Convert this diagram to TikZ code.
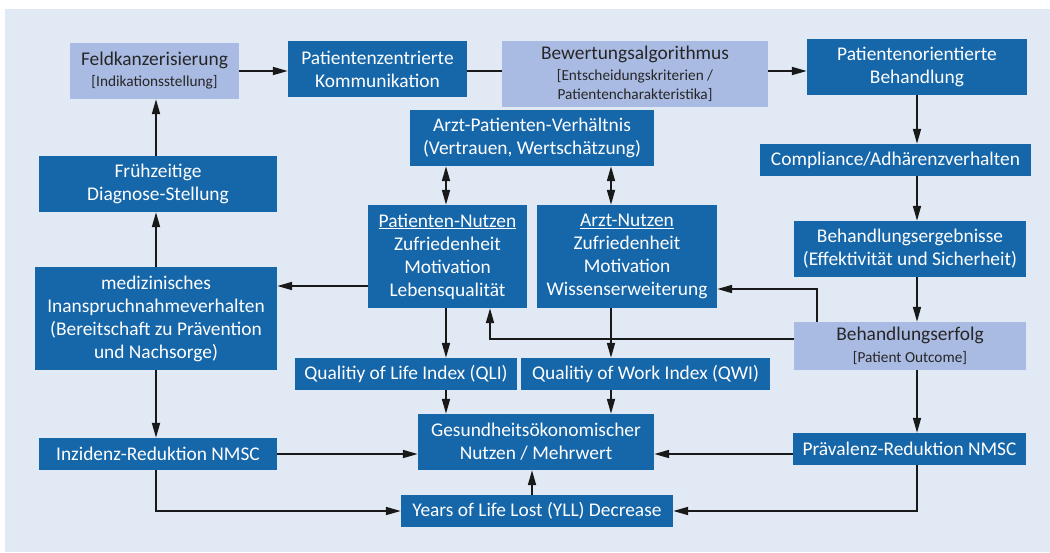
\documentclass[tikz,border=0pt]{standalone}
\usepackage{fontspec}
\setmainfont{Carlito}
\usepackage{xcolor}
\usetikzlibrary{arrows.meta, positioning}
\definecolor{boxblue}{HTML}{1666AA}
\definecolor{boxlight}{HTML}{AABBE3}
\definecolor{bgblue}{HTML}{E0E9F4}
\newcommand{\smalltxt}{\fontsize{15.3}{19}\selectfont}

\begin{document}
\begin{tikzpicture}[
    x=1pt, y=-1pt,
    box/.style={fill=boxblue, text=white, inner sep=0pt, align=center, font=\fontsize{19.4}{23}\selectfont},
    lightbox/.style={box, fill=boxlight, text=black!85},
    sz/.style 2 args={minimum width=#1pt, minimum height=#2pt},
    arrow/.style={-{Triangle[length=15pt, width=8pt]}, line width=1.7pt, draw=black!90},
    link/.style={line width=1.7pt, draw=black!90},
    dblarrow/.style={arrow, {Triangle[length=15pt, width=8pt]}-{Triangle[length=15pt, width=8pt]}}
  ]
  \useasboundingbox (0,0) rectangle (1050,552);
  \fill[bgblue] (5,9) rectangle (1050,552);

  \node[lightbox, sz={169}{56}] (feld) at (154.5,71) {Feldkanzerisierung\\[-2pt]\smalltxt [Indikationsstellung]};
  \node[box, sz={179}{56}] (komm) at (377.5,69) {Patientenzentrierte\\Kommunikation};
  \node[lightbox, sz={266}{66}] (bewert) at (635,74) {Bewertungsalgorithmus\\[-2pt]\smalltxt [Entscheidungskriterien /\\[-4pt]\smalltxt Patientencharakteristika]};
  \node[box, sz={220}{56}] (orient) at (917,67) {Patientenorientierte\\Behandlung};
  \node[box, sz={244}{56}] (arztpat) at (532,138) {Arzt-Patienten-Verhältnis\\(Vertrauen, Wertschätzung)};
  \node[box, sz={271}{32}] (compl) at (895.5,160) {Compliance/Adhärenzverhalten};
  \node[box, sz={238}{56}] (frueh) at (158,184) {Frühzeitige\\Diagnose-Stellung};
  \node[box, sz={159}{103}] (patnutz) at (447.5,256.5) {\underline{Patienten-Nutzen}\\Zufriedenheit\\Motivation\\Lebensqualität};
  \node[box, sz={180}{103}] (arztnutz) at (627,256.5) {\underline{Arzt-Nutzen}\\Zufriedenheit\\Motivation\\Wissenserweiterung};
  \node[box, sz={232}{56}] (ergeb) at (910,249) {Behandlungsergebnisse\\(Effektivität und Sicherheit)};
  \node[box, sz={242}{103}] (mediz) at (156,318.5) {medizinisches\\Inanspruchnahmeverhalten\\(Bereitschaft zu Prävention\\und Nachsorge)};
  \node[lightbox, sz={232}{48}] (erfolg) at (910,346) {Behandlungserfolg\\[-1pt]\smalltxt [Patient Outcome]};
  \node[box, sz={222}{32}] (qli) at (406,374) {Qualitiy of Life Index (QLI)};
  \node[box, sz={249}{32}] (qwi) at (645.5,374) {Qualitiy of Work Index (QWI)};
  \node[box, sz={236}{56}] (gesund) at (536,442) {Gesundheitsökonomischer\\Nutzen / Mehrwert};
  \node[box, sz={238}{32}] (inzid) at (158,454) {Inzidenz-Reduktion NMSC};
  \node[box, sz={233}{32}] (praev) at (909.5,449) {Prävalenz-Reduktion NMSC};
  \node[box, sz={272}{32}] (yll) at (537,511) {Years of Life Lost (YLL) Decrease};

  \coordinate (cl) at (156,0);
  \coordinate (cp) at (446,0);
  \coordinate (ca) at (611,0);
  \coordinate (cr) at (917,0);
  \coordinate (cy) at (532,0);
  \coordinate (rowm) at (0,286);
  \coordinate (ce) at (817,289);
  \coordinate (cb) at (490,339);

  \draw[arrow] (feld.east) -- (feld.east -| komm.west);
  \draw[link] (komm.east |- feld.east) -- (bewert.west |- feld.east);
  \draw[arrow] (bewert.east |- feld.east) -- (orient.west |- feld.east);
  \draw[arrow] (orient.south -| cr) -- (compl.north -| cr);
  \draw[arrow] (compl.south -| cr) -- (ergeb.north -| cr);
  \draw[arrow] (ergeb.south -| cr) -- (erfolg.north -| cr);
  \draw[arrow] (erfolg.south -| cr) -- (praev.north -| cr);
  \draw[arrow] (frueh.north -| cl) -- (feld.south -| cl);
  \draw[arrow] (mediz.north -| cl) -- (frueh.south -| cl);
  \draw[arrow] (mediz.south -| cl) -- (inzid.north -| cl);
  \draw[dblarrow] (arztpat.south -| cp) -- (patnutz.north -| cp);
  \draw[dblarrow] (arztpat.south -| ca) -- (arztnutz.north -| ca);
  \draw[arrow] (patnutz.west |- rowm) -- (mediz.east |- rowm);
  \draw[arrow] (patnutz.south -| cp) -- (qli.north -| cp);
  \draw[arrow] (qli.south -| cp) -- (gesund.north -| cp);
  \draw[arrow] (arztnutz.south -| ca) -- (qwi.north -| ca);
  \draw[arrow] (qwi.south -| ca) -- (gesund.north -| ca);
  \draw[arrow] (erfolg.north -| ce) -- (ce) -- (arztnutz.east |- ce);
  \draw[arrow] (erfolg.west |- cb) -| (patnutz.south -| cb);
  \draw[arrow] (inzid.east) -- (gesund.west |- inzid.east);
  \draw[arrow] (praev.west |- inzid.east) -- (gesund.east |- inzid.east);
  \draw[arrow] (inzid.south -| cl) |- (yll.west);
  \draw[arrow] (praev.south -| cr) |- (yll.east);
  \draw[arrow] (yll.north -| cy) -- (gesund.south -| cy);
\end{tikzpicture}
\end{document}
